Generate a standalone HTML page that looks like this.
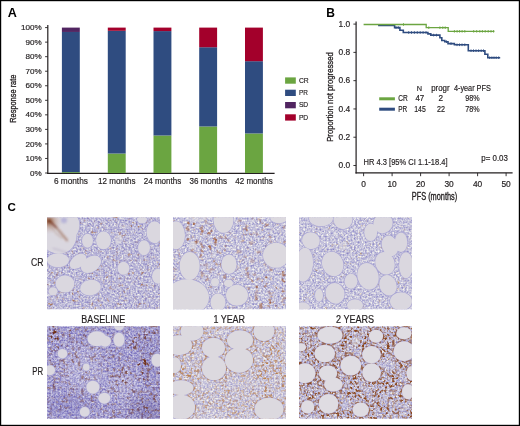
<!DOCTYPE html>
<html><head><meta charset="utf-8"><style>
html,body{margin:0;padding:0;background:#fff;}
svg{display:block;will-change:transform;}
text{font-family:"Liberation Sans", sans-serif;}
text.s{stroke:#231f20;stroke-width:0.18px;}
</style></head><body>
<svg width="520" height="426" viewBox="0 0 520 426">
<rect x="0" y="0" width="520" height="426" fill="#fff"/>
<text x="7.8" y="17" font-size="12.6" text-anchor="start" font-weight="bold" fill="#000" >A</text>
<line x1="47.8" y1="24.9" x2="47.8" y2="173.9" stroke="#231f20" stroke-width="1.2"/>
<line x1="47.2" y1="173.3" x2="274.6" y2="173.3" stroke="#231f20" stroke-width="1.2"/>
<line x1="45.1" y1="173.00" x2="47.8" y2="173.00" stroke="#231f20" stroke-width="0.9"/>
<text class="s" x="41.7" y="175.60" font-size="8.1" text-anchor="end" fill="#231f20" >0%</text>
<line x1="45.1" y1="158.46" x2="47.8" y2="158.46" stroke="#231f20" stroke-width="0.9"/>
<text class="s" x="41.7" y="161.06" font-size="8.1" text-anchor="end" fill="#231f20" >10%</text>
<line x1="45.1" y1="143.92" x2="47.8" y2="143.92" stroke="#231f20" stroke-width="0.9"/>
<text class="s" x="41.7" y="146.52" font-size="8.1" text-anchor="end" fill="#231f20" >20%</text>
<line x1="45.1" y1="129.38" x2="47.8" y2="129.38" stroke="#231f20" stroke-width="0.9"/>
<text class="s" x="41.7" y="131.98" font-size="8.1" text-anchor="end" fill="#231f20" >30%</text>
<line x1="45.1" y1="114.84" x2="47.8" y2="114.84" stroke="#231f20" stroke-width="0.9"/>
<text class="s" x="41.7" y="117.44" font-size="8.1" text-anchor="end" fill="#231f20" >40%</text>
<line x1="45.1" y1="100.30" x2="47.8" y2="100.30" stroke="#231f20" stroke-width="0.9"/>
<text class="s" x="41.7" y="102.90" font-size="8.1" text-anchor="end" fill="#231f20" >50%</text>
<line x1="45.1" y1="85.76" x2="47.8" y2="85.76" stroke="#231f20" stroke-width="0.9"/>
<text class="s" x="41.7" y="88.36" font-size="8.1" text-anchor="end" fill="#231f20" >60%</text>
<line x1="45.1" y1="71.22" x2="47.8" y2="71.22" stroke="#231f20" stroke-width="0.9"/>
<text class="s" x="41.7" y="73.82" font-size="8.1" text-anchor="end" fill="#231f20" >70%</text>
<line x1="45.1" y1="56.68" x2="47.8" y2="56.68" stroke="#231f20" stroke-width="0.9"/>
<text class="s" x="41.7" y="59.28" font-size="8.1" text-anchor="end" fill="#231f20" >80%</text>
<line x1="45.1" y1="42.14" x2="47.8" y2="42.14" stroke="#231f20" stroke-width="0.9"/>
<text class="s" x="41.7" y="44.74" font-size="8.1" text-anchor="end" fill="#231f20" >90%</text>
<line x1="45.1" y1="27.60" x2="47.8" y2="27.60" stroke="#231f20" stroke-width="0.9"/>
<text class="s" x="41.7" y="30.20" font-size="8.1" text-anchor="end" fill="#231f20" >100%</text>
<rect x="61.9" y="172.13" width="17.9" height="0.87" fill="#6ba541"/>
<rect x="61.9" y="31.96" width="17.9" height="140.17" fill="#2f4c80"/>
<rect x="61.9" y="27.60" width="17.9" height="4.36" fill="#512561"/>
<text class="s" x="70.90" y="183.7" font-size="8.6" text-anchor="middle" fill="#231f20" textLength="34" lengthAdjust="spacingAndGlyphs" >6 months</text>
<rect x="107.8" y="153.52" width="17.9" height="19.48" fill="#6ba541"/>
<rect x="107.8" y="30.80" width="17.9" height="122.72" fill="#2f4c80"/>
<rect x="107.8" y="27.60" width="17.9" height="3.20" fill="#a3002b"/>
<text class="s" x="116.80" y="183.7" font-size="8.6" text-anchor="middle" fill="#231f20" textLength="37.5" lengthAdjust="spacingAndGlyphs" >12 months</text>
<rect x="153.5" y="135.49" width="17.9" height="37.51" fill="#6ba541"/>
<rect x="153.5" y="31.09" width="17.9" height="104.40" fill="#2f4c80"/>
<rect x="153.5" y="27.60" width="17.9" height="3.49" fill="#a3002b"/>
<text class="s" x="162.50" y="183.7" font-size="8.6" text-anchor="middle" fill="#231f20" textLength="37.5" lengthAdjust="spacingAndGlyphs" >24 months</text>
<rect x="199.2" y="126.47" width="17.9" height="46.53" fill="#6ba541"/>
<rect x="199.2" y="47.23" width="17.9" height="79.24" fill="#2f4c80"/>
<rect x="199.2" y="27.60" width="17.9" height="19.63" fill="#a3002b"/>
<text class="s" x="208.20" y="183.7" font-size="8.6" text-anchor="middle" fill="#231f20" textLength="37.5" lengthAdjust="spacingAndGlyphs" >36 months</text>
<rect x="245.0" y="133.45" width="17.9" height="39.55" fill="#6ba541"/>
<rect x="245.0" y="61.19" width="17.9" height="72.26" fill="#2f4c80"/>
<rect x="245.0" y="27.60" width="17.9" height="33.59" fill="#a3002b"/>
<text class="s" x="254.00" y="183.7" font-size="8.6" text-anchor="middle" fill="#231f20" textLength="37.5" lengthAdjust="spacingAndGlyphs" >42 months</text>
<text transform="translate(15.6,98.7) rotate(-90)" x="0" y="0" font-size="9.4" text-anchor="middle" fill="#231f20" stroke="#231f20" stroke-width="0.32" textLength="48.2" lengthAdjust="spacingAndGlyphs">Response rate</text>
<rect x="285.1" y="77.40" width="10.7" height="6.3" fill="#6ba541"/>
<text class="s" x="298.9" y="82.70" font-size="7.8" text-anchor="start" fill="#231f20" textLength="9.8" lengthAdjust="spacingAndGlyphs" >CR</text>
<rect x="285.1" y="89.70" width="10.7" height="6.3" fill="#2f4c80"/>
<text class="s" x="298.9" y="95.00" font-size="7.8" text-anchor="start" fill="#231f20" textLength="8.9" lengthAdjust="spacingAndGlyphs" >PR</text>
<rect x="285.1" y="102.00" width="10.7" height="6.3" fill="#512561"/>
<text class="s" x="298.9" y="107.30" font-size="7.8" text-anchor="start" fill="#231f20" textLength="9.3" lengthAdjust="spacingAndGlyphs" >SD</text>
<rect x="285.1" y="114.30" width="10.7" height="6.3" fill="#a3002b"/>
<text class="s" x="298.9" y="119.60" font-size="7.8" text-anchor="start" fill="#231f20" textLength="9.3" lengthAdjust="spacingAndGlyphs" >PD</text>
<text x="326.3" y="17" font-size="12.0" text-anchor="start" font-weight="bold" fill="#000" >B</text>
<line x1="356.1" y1="21.4" x2="356.1" y2="173.5" stroke="#231f20" stroke-width="1.2"/>
<line x1="355.5" y1="172.9" x2="512.6" y2="172.9" stroke="#231f20" stroke-width="1.2"/>
<line x1="353.4" y1="165.50" x2="356.1" y2="165.50" stroke="#231f20" stroke-width="0.9"/>
<text class="s" x="350.2" y="168.10" font-size="8.4" text-anchor="end" fill="#231f20" >0.0</text>
<line x1="353.4" y1="137.22" x2="356.1" y2="137.22" stroke="#231f20" stroke-width="0.9"/>
<text class="s" x="350.2" y="139.82" font-size="8.4" text-anchor="end" fill="#231f20" >0.2</text>
<line x1="353.4" y1="108.94" x2="356.1" y2="108.94" stroke="#231f20" stroke-width="0.9"/>
<text class="s" x="350.2" y="111.54" font-size="8.4" text-anchor="end" fill="#231f20" >0.4</text>
<line x1="353.4" y1="80.66" x2="356.1" y2="80.66" stroke="#231f20" stroke-width="0.9"/>
<text class="s" x="350.2" y="83.26" font-size="8.4" text-anchor="end" fill="#231f20" >0.6</text>
<line x1="353.4" y1="52.38" x2="356.1" y2="52.38" stroke="#231f20" stroke-width="0.9"/>
<text class="s" x="350.2" y="54.98" font-size="8.4" text-anchor="end" fill="#231f20" >0.8</text>
<line x1="353.4" y1="24.10" x2="356.1" y2="24.10" stroke="#231f20" stroke-width="0.9"/>
<text class="s" x="350.2" y="26.70" font-size="8.4" text-anchor="end" fill="#231f20" >1.0</text>
<line x1="363.60" y1="172.9" x2="363.60" y2="176.2" stroke="#231f20" stroke-width="0.9"/>
<text class="s" x="363.60" y="186.5" font-size="8.4" text-anchor="middle" fill="#231f20" >0</text>
<line x1="392.10" y1="172.9" x2="392.10" y2="176.2" stroke="#231f20" stroke-width="0.9"/>
<text class="s" x="392.10" y="186.5" font-size="8.4" text-anchor="middle" fill="#231f20" >10</text>
<line x1="420.60" y1="172.9" x2="420.60" y2="176.2" stroke="#231f20" stroke-width="0.9"/>
<text class="s" x="420.60" y="186.5" font-size="8.4" text-anchor="middle" fill="#231f20" >20</text>
<line x1="449.10" y1="172.9" x2="449.10" y2="176.2" stroke="#231f20" stroke-width="0.9"/>
<text class="s" x="449.10" y="186.5" font-size="8.4" text-anchor="middle" fill="#231f20" >30</text>
<line x1="477.60" y1="172.9" x2="477.60" y2="176.2" stroke="#231f20" stroke-width="0.9"/>
<text class="s" x="477.60" y="186.5" font-size="8.4" text-anchor="middle" fill="#231f20" >40</text>
<line x1="506.10" y1="172.9" x2="506.10" y2="176.2" stroke="#231f20" stroke-width="0.9"/>
<text class="s" x="506.10" y="186.5" font-size="8.4" text-anchor="middle" fill="#231f20" >50</text>
<text x="411.8" y="199.9" font-size="10.2" text-anchor="start" fill="#231f20" textLength="45.4" lengthAdjust="spacingAndGlyphs" stroke="#231f20" stroke-width="0.35">PFS (months)</text>
<text transform="translate(333,97) rotate(-90)" x="0" y="0" font-size="9.8" text-anchor="middle" fill="#231f20" stroke="#231f20" stroke-width="0.32" textLength="89.7" lengthAdjust="spacingAndGlyphs">Proportion not progressed</text>
<line x1="379.2" y1="98.8" x2="394.9" y2="98.8" stroke="#6ba541" stroke-width="3"/>
<line x1="379.2" y1="109.2" x2="394.9" y2="109.2" stroke="#2f4c80" stroke-width="3"/>
<text class="s" x="419.5" y="91.1" font-size="8.0" text-anchor="middle" fill="#231f20" textLength="5.3" lengthAdjust="spacingAndGlyphs" >N</text>
<text class="s" x="431.2" y="91.1" font-size="8.2" text-anchor="start" fill="#231f20" textLength="18.4" lengthAdjust="spacingAndGlyphs" >progr</text>
<text class="s" x="453.9" y="91.1" font-size="8.2" text-anchor="start" fill="#231f20" textLength="36.9" lengthAdjust="spacingAndGlyphs" >4-year PFS</text>
<text class="s" x="398.2" y="101.4" font-size="8.2" text-anchor="start" fill="#231f20" textLength="9.5" lengthAdjust="spacingAndGlyphs" >CR</text>
<text class="s" x="398.2" y="111.6" font-size="8.2" text-anchor="start" fill="#231f20" textLength="9.0" lengthAdjust="spacingAndGlyphs" >PR</text>
<text class="s" x="419.8" y="101.4" font-size="8.2" text-anchor="middle" fill="#231f20" textLength="8.8" lengthAdjust="spacingAndGlyphs" >47</text>
<text class="s" x="420.0" y="111.6" font-size="8.2" text-anchor="middle" fill="#231f20" textLength="11.5" lengthAdjust="spacingAndGlyphs" >145</text>
<text class="s" x="440.7" y="101.4" font-size="8.2" text-anchor="middle" fill="#231f20" >2</text>
<text class="s" x="440.9" y="111.6" font-size="8.2" text-anchor="middle" fill="#231f20" textLength="8.0" lengthAdjust="spacingAndGlyphs" >22</text>
<text class="s" x="472.4" y="101.4" font-size="8.2" text-anchor="middle" fill="#231f20" textLength="14.3" lengthAdjust="spacingAndGlyphs" >98%</text>
<text class="s" x="472.4" y="111.6" font-size="8.2" text-anchor="middle" fill="#231f20" textLength="14.3" lengthAdjust="spacingAndGlyphs" >78%</text>
<text class="s" x="363.6" y="165.4" font-size="8.4" text-anchor="start" fill="#231f20" textLength="84.0" lengthAdjust="spacingAndGlyphs" >HR 4.3 [95% CI 1.1-18.4]</text>
<text class="s" x="481.3" y="161.4" font-size="8.4" text-anchor="start" fill="#231f20" textLength="26.6" lengthAdjust="spacingAndGlyphs" >p= 0.03</text>
<polyline points="378.1,25.5 394.6,25.5 394.6,27.6 399.9,27.6 399.9,30.3 403.3,30.3 403.3,32.5 427.9,32.5 427.9,33.9 430.8,33.9 430.8,35.1 439.9,35.1 439.9,37.7 441.8,37.7 441.8,40.5 444.8,40.5 444.8,41.7 448.0,41.7 448.0,43.6 454.4,43.6 454.4,44.8 468.3,44.8 468.3,50.7 484.9,50.7 484.9,54.3 487.8,54.3 487.8,57.7 500.2,57.7" fill="none" stroke="#2f4c80" stroke-width="1.6"/>
<line x1="396" y1="26.30" x2="396" y2="28.90" stroke="#2f4c80" stroke-width="0.9"/>
<line x1="398.3" y1="26.30" x2="398.3" y2="28.90" stroke="#2f4c80" stroke-width="0.9"/>
<line x1="408.7" y1="31.20" x2="408.7" y2="33.80" stroke="#2f4c80" stroke-width="0.9"/>
<line x1="411.5" y1="31.20" x2="411.5" y2="33.80" stroke="#2f4c80" stroke-width="0.9"/>
<line x1="414.4" y1="31.20" x2="414.4" y2="33.80" stroke="#2f4c80" stroke-width="0.9"/>
<line x1="417.3" y1="31.20" x2="417.3" y2="33.80" stroke="#2f4c80" stroke-width="0.9"/>
<line x1="420.2" y1="31.20" x2="420.2" y2="33.80" stroke="#2f4c80" stroke-width="0.9"/>
<line x1="423.1" y1="31.20" x2="423.1" y2="33.80" stroke="#2f4c80" stroke-width="0.9"/>
<line x1="426" y1="31.20" x2="426" y2="33.80" stroke="#2f4c80" stroke-width="0.9"/>
<line x1="433.6" y1="33.80" x2="433.6" y2="36.40" stroke="#2f4c80" stroke-width="0.9"/>
<line x1="436.5" y1="33.80" x2="436.5" y2="36.40" stroke="#2f4c80" stroke-width="0.9"/>
<line x1="446.5" y1="40.40" x2="446.5" y2="43.00" stroke="#2f4c80" stroke-width="0.9"/>
<line x1="451" y1="42.30" x2="451" y2="44.90" stroke="#2f4c80" stroke-width="0.9"/>
<line x1="457" y1="43.50" x2="457" y2="46.10" stroke="#2f4c80" stroke-width="0.9"/>
<line x1="459.5" y1="43.50" x2="459.5" y2="46.10" stroke="#2f4c80" stroke-width="0.9"/>
<line x1="462" y1="43.50" x2="462" y2="46.10" stroke="#2f4c80" stroke-width="0.9"/>
<line x1="464.8" y1="43.50" x2="464.8" y2="46.10" stroke="#2f4c80" stroke-width="0.9"/>
<line x1="471" y1="49.40" x2="471" y2="52.00" stroke="#2f4c80" stroke-width="0.9"/>
<line x1="473.5" y1="49.40" x2="473.5" y2="52.00" stroke="#2f4c80" stroke-width="0.9"/>
<line x1="476" y1="49.40" x2="476" y2="52.00" stroke="#2f4c80" stroke-width="0.9"/>
<line x1="478.6" y1="49.40" x2="478.6" y2="52.00" stroke="#2f4c80" stroke-width="0.9"/>
<line x1="481.2" y1="49.40" x2="481.2" y2="52.00" stroke="#2f4c80" stroke-width="0.9"/>
<line x1="483.5" y1="49.40" x2="483.5" y2="52.00" stroke="#2f4c80" stroke-width="0.9"/>
<line x1="489.7" y1="56.40" x2="489.7" y2="59.00" stroke="#2f4c80" stroke-width="0.9"/>
<line x1="491.9" y1="56.40" x2="491.9" y2="59.00" stroke="#2f4c80" stroke-width="0.9"/>
<line x1="494" y1="56.40" x2="494" y2="59.00" stroke="#2f4c80" stroke-width="0.9"/>
<line x1="496.2" y1="56.40" x2="496.2" y2="59.00" stroke="#2f4c80" stroke-width="0.9"/>
<line x1="498.7" y1="56.40" x2="498.7" y2="59.00" stroke="#2f4c80" stroke-width="0.9"/>
<polyline points="363.6,24.5 426.2,24.5 426.2,27.7 448.2,27.7 448.2,31.3 494.4,31.3" fill="none" stroke="#6ba541" stroke-width="1.3"/>
<line x1="403.5" y1="23.20" x2="403.5" y2="25.80" stroke="#6ba541" stroke-width="0.9"/>
<line x1="428.8" y1="26.40" x2="428.8" y2="29.00" stroke="#6ba541" stroke-width="0.9"/>
<line x1="439.9" y1="26.40" x2="439.9" y2="29.00" stroke="#6ba541" stroke-width="0.9"/>
<line x1="442.8" y1="26.40" x2="442.8" y2="29.00" stroke="#6ba541" stroke-width="0.9"/>
<line x1="445.2" y1="26.40" x2="445.2" y2="29.00" stroke="#6ba541" stroke-width="0.9"/>
<line x1="454.4" y1="30.00" x2="454.4" y2="32.60" stroke="#6ba541" stroke-width="0.9"/>
<line x1="457.1" y1="30.00" x2="457.1" y2="32.60" stroke="#6ba541" stroke-width="0.9"/>
<line x1="459.6" y1="30.00" x2="459.6" y2="32.60" stroke="#6ba541" stroke-width="0.9"/>
<line x1="462.1" y1="30.00" x2="462.1" y2="32.60" stroke="#6ba541" stroke-width="0.9"/>
<line x1="464.8" y1="30.00" x2="464.8" y2="32.60" stroke="#6ba541" stroke-width="0.9"/>
<line x1="473.7" y1="30.00" x2="473.7" y2="32.60" stroke="#6ba541" stroke-width="0.9"/>
<line x1="476.7" y1="30.00" x2="476.7" y2="32.60" stroke="#6ba541" stroke-width="0.9"/>
<line x1="479.8" y1="30.00" x2="479.8" y2="32.60" stroke="#6ba541" stroke-width="0.9"/>
<line x1="482.4" y1="30.00" x2="482.4" y2="32.60" stroke="#6ba541" stroke-width="0.9"/>
<line x1="485.2" y1="30.00" x2="485.2" y2="32.60" stroke="#6ba541" stroke-width="0.9"/>
<line x1="488.2" y1="30.00" x2="488.2" y2="32.60" stroke="#6ba541" stroke-width="0.9"/>
<line x1="491.0" y1="30.00" x2="491.0" y2="32.60" stroke="#6ba541" stroke-width="0.9"/>
<line x1="493.6" y1="30.00" x2="493.6" y2="32.60" stroke="#6ba541" stroke-width="0.9"/>
<text x="7.4" y="211" font-size="11.6" text-anchor="start" font-weight="bold" fill="#000" >C</text>
<text class="s" x="30.9" y="266.1" font-size="10.0" text-anchor="start" fill="#231f20" textLength="12.5" lengthAdjust="spacingAndGlyphs" >CR</text>
<text class="s" x="32.3" y="374.8" font-size="10.0" text-anchor="start" fill="#231f20" textLength="10.9" lengthAdjust="spacingAndGlyphs" >PR</text>
<text class="s" x="81.3" y="322.8" font-size="10.2" text-anchor="start" fill="#231f20" textLength="44.0" lengthAdjust="spacingAndGlyphs" >BASELINE</text>
<text class="s" x="213.4" y="322.8" font-size="10.0" text-anchor="start" fill="#231f20" textLength="31.6" lengthAdjust="spacingAndGlyphs" >1 YEAR</text>
<text class="s" x="336.0" y="322.8" font-size="10.0" text-anchor="start" fill="#231f20" textLength="38.1" lengthAdjust="spacingAndGlyphs" >2 YEARS</text>
<clipPath id="c0"><rect x="47" y="217.3" width="113" height="92"/></clipPath>
<filter id="t0" x="47" y="217.3" width="113" height="92" filterUnits="userSpaceOnUse" color-interpolation-filters="sRGB"><feTurbulence type="fractalNoise" baseFrequency="0.55" numOctaves="2" seed="3" result="n"/><feColorMatrix in="n" type="matrix" values="0.6275 0 0 0 0.4298  0.6588 0 0 0 0.4003  0.2353 0 0 0 0.7318  0 0 0 0 1" result="ts0"/><feGaussianBlur in="ts0" stdDeviation="0.25"/></filter>
<filter id="b0" x="47" y="217.3" width="113" height="92" filterUnits="userSpaceOnUse" color-interpolation-filters="sRGB"><feTurbulence type="fractalNoise" baseFrequency="0.32" numOctaves="2" seed="103" result="n2"/><feColorMatrix in="n2" type="matrix" values="0 0 0 0 0.6588  0 0 0 0 0.4157  0 0 0 0 0.2510  4 0 0 0 -2.4000" result="br"/><feTurbulence type="fractalNoise" baseFrequency="0.1" numOctaves="1" seed="203" result="n3"/><feColorMatrix in="n3" type="matrix" values="0 0 0 0 0  0 0 0 0 0  0 0 0 0 0  3 0 0 0 -1.050" result="cm"/><feComposite in="br" in2="cm" operator="in" result="br2"/><feGaussianBlur in="br2" stdDeviation="0.45"/></filter>
<g clip-path="url(#c0)">
<rect x="47" y="217.3" width="113" height="92" filter="url(#t0)"/>
<rect x="47" y="217.3" width="113" height="92" filter="url(#b0)"/>
<ellipse cx="118.5" cy="239.3" rx="4" ry="5" transform="rotate(0 118.5 239.3)" fill="#dad7df" opacity="0.55"/>
<ellipse cx="57" cy="232.3" rx="19" ry="22" transform="rotate(-25 57 232.3)" fill="none" stroke="#aaa6d4" stroke-width="1.3"/>
<ellipse cx="73" cy="225.3" rx="6.5" ry="11" transform="rotate(0 73 225.3)" fill="none" stroke="#aaa6d4" stroke-width="1.3"/>
<ellipse cx="58" cy="260.3" rx="11" ry="7" transform="rotate(0 58 260.3)" fill="none" stroke="#aaa6d4" stroke-width="1.3"/>
<ellipse cx="87.5" cy="240.8" rx="5.5" ry="7" transform="rotate(0 87.5 240.8)" fill="none" stroke="#aaa6d4" stroke-width="1.3"/>
<ellipse cx="103.5" cy="240.3" rx="7.5" ry="9" transform="rotate(0 103.5 240.3)" fill="none" stroke="#aaa6d4" stroke-width="1.3"/>
<ellipse cx="78" cy="261.3" rx="9.5" ry="6" transform="rotate(-40 78 261.3)" fill="none" stroke="#aaa6d4" stroke-width="1.3"/>
<ellipse cx="91" cy="264.3" rx="11" ry="7.5" transform="rotate(-35 91 264.3)" fill="none" stroke="#aaa6d4" stroke-width="1.3"/>
<ellipse cx="123.5" cy="268.3" rx="6" ry="6.5" transform="rotate(0 123.5 268.3)" fill="none" stroke="#aaa6d4" stroke-width="1.3"/>
<ellipse cx="144" cy="247.8" rx="6" ry="7.5" transform="rotate(0 144 247.8)" fill="none" stroke="#aaa6d4" stroke-width="1.3"/>
<ellipse cx="154.5" cy="232.3" rx="8" ry="11" transform="rotate(0 154.5 232.3)" fill="none" stroke="#aaa6d4" stroke-width="1.3"/>
<ellipse cx="158" cy="276.3" rx="6" ry="7.5" transform="rotate(0 158 276.3)" fill="none" stroke="#aaa6d4" stroke-width="1.3"/>
<ellipse cx="65" cy="283.8" rx="9.4" ry="8.6" transform="rotate(0 65 283.8)" fill="none" stroke="#aaa6d4" stroke-width="1.3"/>
<ellipse cx="90.5" cy="287.6" rx="10.5" ry="7.7" transform="rotate(-10 90.5 287.6)" fill="none" stroke="#aaa6d4" stroke-width="1.3"/>
<ellipse cx="53" cy="291.3" rx="4.5" ry="4" transform="rotate(0 53 291.3)" fill="none" stroke="#aaa6d4" stroke-width="1.3"/>
<ellipse cx="142" cy="219.3" rx="5" ry="4" transform="rotate(0 142 219.3)" fill="none" stroke="#aaa6d4" stroke-width="1.3"/>
<ellipse cx="57" cy="232.3" rx="19" ry="22" transform="rotate(-25 57 232.3)" fill="#dad7df"/>
<ellipse cx="73" cy="225.3" rx="6.5" ry="11" transform="rotate(0 73 225.3)" fill="#dad7df"/>
<ellipse cx="58" cy="260.3" rx="11" ry="7" transform="rotate(0 58 260.3)" fill="#dad7df"/>
<ellipse cx="87.5" cy="240.8" rx="5.5" ry="7" transform="rotate(0 87.5 240.8)" fill="#dad7df"/>
<ellipse cx="103.5" cy="240.3" rx="7.5" ry="9" transform="rotate(0 103.5 240.3)" fill="#dad7df"/>
<ellipse cx="78" cy="261.3" rx="9.5" ry="6" transform="rotate(-40 78 261.3)" fill="#dad7df"/>
<ellipse cx="91" cy="264.3" rx="11" ry="7.5" transform="rotate(-35 91 264.3)" fill="#dad7df"/>
<ellipse cx="123.5" cy="268.3" rx="6" ry="6.5" transform="rotate(0 123.5 268.3)" fill="#dad7df"/>
<ellipse cx="144" cy="247.8" rx="6" ry="7.5" transform="rotate(0 144 247.8)" fill="#dad7df"/>
<ellipse cx="154.5" cy="232.3" rx="8" ry="11" transform="rotate(0 154.5 232.3)" fill="#dad7df"/>
<ellipse cx="158" cy="276.3" rx="6" ry="7.5" transform="rotate(0 158 276.3)" fill="#dad7df"/>
<ellipse cx="65" cy="283.8" rx="9.4" ry="8.6" transform="rotate(0 65 283.8)" fill="#dad7df"/>
<ellipse cx="90.5" cy="287.6" rx="10.5" ry="7.7" transform="rotate(-10 90.5 287.6)" fill="#dad7df"/>
<ellipse cx="53" cy="291.3" rx="4.5" ry="4" transform="rotate(0 53 291.3)" fill="#dad7df"/>
<ellipse cx="142" cy="219.3" rx="5" ry="4" transform="rotate(0 142 219.3)" fill="#dad7df"/>
<defs><radialGradient id="bg0" cx="49" cy="221.3" r="13" gradientUnits="userSpaceOnUse"><stop offset="0" stop-color="#7a3a1a" stop-opacity="0.85"/><stop offset="0.45" stop-color="#a06848" stop-opacity="0.35"/><stop offset="1" stop-color="#c8b0a8" stop-opacity="0"/></radialGradient><filter id="bl0" x="42" y="212.3" width="50" height="50" filterUnits="userSpaceOnUse"><feGaussianBlur stdDeviation="0.9"/></filter></defs>
<rect x="47" y="217.3" width="18" height="20" fill="url(#bg0)"/>
<g filter="url(#bl0)" fill="none" stroke-linecap="round"><path d="M49 220.3 L57 228.3 L67 240.3" stroke="#8a4a2a" stroke-width="2.2" opacity="0.5"/><path d="M49 220.3 L56 227.3" stroke="#6a2a10" stroke-width="1.6" opacity="0.6"/><path d="M51 226.3 L56 233.3 L62 238.3" stroke="#9a6a50" stroke-width="1.2" opacity="0.35"/><path d="M53 248.3 Q61 250.3 68 253.3" stroke="#8a7aa8" stroke-width="0.8" opacity="0.5"/></g>
<ellipse cx="64" cy="220.3" rx="3" ry="3" fill="#a8a4d4" opacity="0.7" filter="url(#bl0)"/>
</g>
<clipPath id="c1"><rect x="173" y="217.3" width="113" height="92"/></clipPath>
<filter id="t1" x="173" y="217.3" width="113" height="92" filterUnits="userSpaceOnUse" color-interpolation-filters="sRGB"><feTurbulence type="fractalNoise" baseFrequency="0.55" numOctaves="2" seed="5" result="n"/><feColorMatrix in="n" type="matrix" values="0.6431 0 0 0 0.4540  0.6588 0 0 0 0.4358  0.2353 0 0 0 0.7467  0 0 0 0 1" result="ts0"/><feGaussianBlur in="ts0" stdDeviation="0.25"/></filter>
<filter id="b1" x="173" y="217.3" width="113" height="92" filterUnits="userSpaceOnUse" color-interpolation-filters="sRGB"><feTurbulence type="fractalNoise" baseFrequency="0.22" numOctaves="2" seed="105" result="n2"/><feColorMatrix in="n2" type="matrix" values="0 0 0 0 0.6275  0 0 0 0 0.3529  0 0 0 0 0.2039  6 0 0 0 -3.3600" result="br"/><feTurbulence type="fractalNoise" baseFrequency="0.1" numOctaves="1" seed="205" result="n3"/><feColorMatrix in="n3" type="matrix" values="0 0 0 0 0  0 0 0 0 0  0 0 0 0 0  3 0 0 0 -0.900" result="cm"/><feComposite in="br" in2="cm" operator="in" result="br2"/><feGaussianBlur in="br2" stdDeviation="0.45"/></filter>
<filter id="mb1" x="153" y="197.3" width="153" height="132" filterUnits="userSpaceOnUse"><feGaussianBlur stdDeviation="7"/></filter>
<mask id="m1" maskUnits="userSpaceOnUse" x="173" y="217.3" width="113" height="92"><g filter="url(#mb1)"><rect x="153" y="197.3" width="153" height="132" fill="#fff" fill-opacity="0.45"/><ellipse cx="201" cy="235.3" rx="24" ry="16" fill="#fff" fill-opacity="1"/><ellipse cx="271" cy="289.3" rx="16" ry="20" fill="#fff" fill-opacity="1"/><ellipse cx="248" cy="227.3" rx="10" ry="10" fill="#fff" fill-opacity="0.8"/></g></mask>
<g clip-path="url(#c1)">
<rect x="173" y="217.3" width="113" height="92" filter="url(#t1)"/>
<rect x="173" y="217.3" width="113" height="92" filter="url(#b1)" mask="url(#m1)"/>
<ellipse cx="192.7" cy="245.3" rx="4" ry="4" transform="rotate(0 192.7 245.3)" fill="#dcd9df" opacity="0.55"/>
<ellipse cx="197" cy="217.3" rx="10" ry="5" transform="rotate(0 197 217.3)" fill="#dcd9df" opacity="0.55"/>
<ellipse cx="176" cy="235.3" rx="9" ry="14" transform="rotate(0 176 235.3)" fill="none" stroke="#aaa6d4" stroke-width="1.3"/>
<ellipse cx="223.5" cy="220.3" rx="10" ry="12.5" transform="rotate(0 223.5 220.3)" fill="none" stroke="#aaa6d4" stroke-width="1.3"/>
<ellipse cx="279" cy="217.3" rx="9" ry="6" transform="rotate(0 279 217.3)" fill="none" stroke="#aaa6d4" stroke-width="1.3"/>
<ellipse cx="189.7" cy="266.0" rx="10" ry="14" transform="rotate(0 189.7 266.0)" fill="none" stroke="#aaa6d4" stroke-width="1.3"/>
<ellipse cx="187" cy="297.3" rx="22" ry="18" transform="rotate(0 187 297.3)" fill="none" stroke="#aaa6d4" stroke-width="1.3"/>
<ellipse cx="215" cy="282.3" rx="4" ry="4.2" transform="rotate(0 215 282.3)" fill="none" stroke="#aaa6d4" stroke-width="1.3"/>
<ellipse cx="228.5" cy="283.3" rx="4.5" ry="3.9" transform="rotate(0 228.5 283.3)" fill="none" stroke="#aaa6d4" stroke-width="1.3"/>
<ellipse cx="229" cy="264.3" rx="7.6" ry="9.8" transform="rotate(0 229 264.3)" fill="none" stroke="#aaa6d4" stroke-width="1.3"/>
<ellipse cx="237" cy="295.3" rx="11" ry="10.5" transform="rotate(0 237 295.3)" fill="none" stroke="#aaa6d4" stroke-width="1.3"/>
<ellipse cx="218" cy="302.3" rx="7.5" ry="9" transform="rotate(0 218 302.3)" fill="none" stroke="#aaa6d4" stroke-width="1.3"/>
<ellipse cx="276" cy="255.3" rx="13" ry="12.5" transform="rotate(0 276 255.3)" fill="none" stroke="#aaa6d4" stroke-width="1.3"/>
<ellipse cx="176" cy="235.3" rx="9" ry="14" transform="rotate(0 176 235.3)" fill="#dcd9df"/>
<ellipse cx="223.5" cy="220.3" rx="10" ry="12.5" transform="rotate(0 223.5 220.3)" fill="#dcd9df"/>
<ellipse cx="279" cy="217.3" rx="9" ry="6" transform="rotate(0 279 217.3)" fill="#dcd9df"/>
<ellipse cx="189.7" cy="266.0" rx="10" ry="14" transform="rotate(0 189.7 266.0)" fill="#dcd9df"/>
<ellipse cx="187" cy="297.3" rx="22" ry="18" transform="rotate(0 187 297.3)" fill="#dcd9df"/>
<ellipse cx="215" cy="282.3" rx="4" ry="4.2" transform="rotate(0 215 282.3)" fill="#dcd9df"/>
<ellipse cx="228.5" cy="283.3" rx="4.5" ry="3.9" transform="rotate(0 228.5 283.3)" fill="#dcd9df"/>
<ellipse cx="229" cy="264.3" rx="7.6" ry="9.8" transform="rotate(0 229 264.3)" fill="#dcd9df"/>
<ellipse cx="237" cy="295.3" rx="11" ry="10.5" transform="rotate(0 237 295.3)" fill="#dcd9df"/>
<ellipse cx="218" cy="302.3" rx="7.5" ry="9" transform="rotate(0 218 302.3)" fill="#dcd9df"/>
<ellipse cx="276" cy="255.3" rx="13" ry="12.5" transform="rotate(0 276 255.3)" fill="#dcd9df"/>
</g>
<clipPath id="c2"><rect x="299" y="217.3" width="113" height="92"/></clipPath>
<filter id="t2" x="299" y="217.3" width="113" height="92" filterUnits="userSpaceOnUse" color-interpolation-filters="sRGB"><feTurbulence type="fractalNoise" baseFrequency="0.55" numOctaves="2" seed="8" result="n"/><feColorMatrix in="n" type="matrix" values="0.6431 0 0 0 0.4540  0.6588 0 0 0 0.4358  0.2353 0 0 0 0.7467  0 0 0 0 1" result="ts0"/><feGaussianBlur in="ts0" stdDeviation="0.25"/></filter>
<filter id="b2" x="299" y="217.3" width="113" height="92" filterUnits="userSpaceOnUse" color-interpolation-filters="sRGB"><feTurbulence type="fractalNoise" baseFrequency="0.32" numOctaves="2" seed="108" result="n2"/><feColorMatrix in="n2" type="matrix" values="0 0 0 0 0.6902  0 0 0 0 0.5020  0 0 0 0 0.2824  4 0 0 0 -2.4800" result="br"/><feTurbulence type="fractalNoise" baseFrequency="0.1" numOctaves="1" seed="208" result="n3"/><feColorMatrix in="n3" type="matrix" values="0 0 0 0 0  0 0 0 0 0  0 0 0 0 0  3 0 0 0 -1.200" result="cm"/><feComposite in="br" in2="cm" operator="in" result="br2"/><feGaussianBlur in="br2" stdDeviation="0.45"/></filter>
<g clip-path="url(#c2)">
<rect x="299" y="217.3" width="113" height="92" filter="url(#t2)"/>
<rect x="299" y="217.3" width="113" height="92" filter="url(#b2)"/>
<ellipse cx="343" cy="246.3" rx="4" ry="4" transform="rotate(0 343 246.3)" fill="#dad7df" opacity="0.55"/>
<ellipse cx="321" cy="218.3" rx="12" ry="8" transform="rotate(0 321 218.3)" fill="none" stroke="#aaa6d4" stroke-width="1.3"/>
<ellipse cx="343" cy="219.3" rx="9.5" ry="10" transform="rotate(0 343 219.3)" fill="none" stroke="#aaa6d4" stroke-width="1.3"/>
<ellipse cx="311" cy="240.60000000000002" rx="9" ry="8.3" transform="rotate(20 311 240.60000000000002)" fill="none" stroke="#aaa6d4" stroke-width="1.3"/>
<ellipse cx="304" cy="264.8" rx="9" ry="17" transform="rotate(5 304 264.8)" fill="none" stroke="#aaa6d4" stroke-width="1.3"/>
<ellipse cx="332.7" cy="264.0" rx="10.5" ry="12.5" transform="rotate(-20 332.7 264.0)" fill="none" stroke="#aaa6d4" stroke-width="1.3"/>
<ellipse cx="335" cy="293.3" rx="9.5" ry="10.5" transform="rotate(-20 335 293.3)" fill="none" stroke="#aaa6d4" stroke-width="1.3"/>
<ellipse cx="319" cy="295.3" rx="4" ry="6.5" transform="rotate(0 319 295.3)" fill="none" stroke="#aaa6d4" stroke-width="1.3"/>
<ellipse cx="302" cy="307.3" rx="8" ry="5" transform="rotate(0 302 307.3)" fill="none" stroke="#aaa6d4" stroke-width="1.3"/>
<ellipse cx="351" cy="281.3" rx="6.5" ry="7.5" transform="rotate(0 351 281.3)" fill="none" stroke="#aaa6d4" stroke-width="1.3"/>
<ellipse cx="368" cy="276.3" rx="10.5" ry="13.5" transform="rotate(-15 368 276.3)" fill="none" stroke="#aaa6d4" stroke-width="1.3"/>
<ellipse cx="355" cy="305.3" rx="8" ry="6" transform="rotate(0 355 305.3)" fill="none" stroke="#aaa6d4" stroke-width="1.3"/>
<ellipse cx="370.7" cy="232.3" rx="6.5" ry="8.7" transform="rotate(0 370.7 232.3)" fill="none" stroke="#aaa6d4" stroke-width="1.3"/>
<ellipse cx="383" cy="223.3" rx="9.5" ry="10" transform="rotate(30 383 223.3)" fill="none" stroke="#aaa6d4" stroke-width="1.3"/>
<ellipse cx="390" cy="245.8" rx="8" ry="10.5" transform="rotate(-20 390 245.8)" fill="none" stroke="#aaa6d4" stroke-width="1.3"/>
<ellipse cx="401" cy="242.3" rx="6.3" ry="9.8" transform="rotate(0 401 242.3)" fill="none" stroke="#aaa6d4" stroke-width="1.3"/>
<ellipse cx="385" cy="263.3" rx="9.5" ry="11.5" transform="rotate(-20 385 263.3)" fill="none" stroke="#aaa6d4" stroke-width="1.3"/>
<ellipse cx="388" cy="285.3" rx="8.5" ry="10.5" transform="rotate(-20 388 285.3)" fill="none" stroke="#aaa6d4" stroke-width="1.3"/>
<ellipse cx="406" cy="265.3" rx="7" ry="13" transform="rotate(0 406 265.3)" fill="none" stroke="#aaa6d4" stroke-width="1.3"/>
<ellipse cx="401" cy="301.3" rx="11" ry="9" transform="rotate(0 401 301.3)" fill="none" stroke="#aaa6d4" stroke-width="1.3"/>
<ellipse cx="321" cy="218.3" rx="12" ry="8" transform="rotate(0 321 218.3)" fill="#dad7df"/>
<ellipse cx="343" cy="219.3" rx="9.5" ry="10" transform="rotate(0 343 219.3)" fill="#dad7df"/>
<ellipse cx="311" cy="240.60000000000002" rx="9" ry="8.3" transform="rotate(20 311 240.60000000000002)" fill="#dad7df"/>
<ellipse cx="304" cy="264.8" rx="9" ry="17" transform="rotate(5 304 264.8)" fill="#dad7df"/>
<ellipse cx="332.7" cy="264.0" rx="10.5" ry="12.5" transform="rotate(-20 332.7 264.0)" fill="#dad7df"/>
<ellipse cx="335" cy="293.3" rx="9.5" ry="10.5" transform="rotate(-20 335 293.3)" fill="#dad7df"/>
<ellipse cx="319" cy="295.3" rx="4" ry="6.5" transform="rotate(0 319 295.3)" fill="#dad7df"/>
<ellipse cx="302" cy="307.3" rx="8" ry="5" transform="rotate(0 302 307.3)" fill="#dad7df"/>
<ellipse cx="351" cy="281.3" rx="6.5" ry="7.5" transform="rotate(0 351 281.3)" fill="#dad7df"/>
<ellipse cx="368" cy="276.3" rx="10.5" ry="13.5" transform="rotate(-15 368 276.3)" fill="#dad7df"/>
<ellipse cx="355" cy="305.3" rx="8" ry="6" transform="rotate(0 355 305.3)" fill="#dad7df"/>
<ellipse cx="370.7" cy="232.3" rx="6.5" ry="8.7" transform="rotate(0 370.7 232.3)" fill="#dad7df"/>
<ellipse cx="383" cy="223.3" rx="9.5" ry="10" transform="rotate(30 383 223.3)" fill="#dad7df"/>
<ellipse cx="390" cy="245.8" rx="8" ry="10.5" transform="rotate(-20 390 245.8)" fill="#dad7df"/>
<ellipse cx="401" cy="242.3" rx="6.3" ry="9.8" transform="rotate(0 401 242.3)" fill="#dad7df"/>
<ellipse cx="385" cy="263.3" rx="9.5" ry="11.5" transform="rotate(-20 385 263.3)" fill="#dad7df"/>
<ellipse cx="388" cy="285.3" rx="8.5" ry="10.5" transform="rotate(-20 388 285.3)" fill="#dad7df"/>
<ellipse cx="406" cy="265.3" rx="7" ry="13" transform="rotate(0 406 265.3)" fill="#dad7df"/>
<ellipse cx="401" cy="301.3" rx="11" ry="9" transform="rotate(0 401 301.3)" fill="#dad7df"/>
</g>
<clipPath id="c3"><rect x="47" y="326.2" width="113" height="92.6"/></clipPath>
<filter id="t3" x="47" y="326.2" width="113" height="92.6" filterUnits="userSpaceOnUse" color-interpolation-filters="sRGB"><feTurbulence type="fractalNoise" baseFrequency="0.55" numOctaves="2" seed="11" result="n"/><feColorMatrix in="n" type="matrix" values="0.6588 0 0 0 0.3274  0.7059 0 0 0 0.2835  0.2824 0 0 0 0.6860  0 0 0 0 1" result="ts0"/><feGaussianBlur in="ts0" stdDeviation="0.25"/></filter>
<filter id="b3" x="47" y="326.2" width="113" height="92.6" filterUnits="userSpaceOnUse" color-interpolation-filters="sRGB"><feTurbulence type="fractalNoise" baseFrequency="0.32" numOctaves="2" seed="111" result="n2"/><feColorMatrix in="n2" type="matrix" values="0 0 0 0 0.4314  0 0 0 0 0.1804  0 0 0 0 0.0863  4.5 0 0 0 -2.2500" result="br"/><feTurbulence type="fractalNoise" baseFrequency="0.1" numOctaves="1" seed="211" result="n3"/><feColorMatrix in="n3" type="matrix" values="0 0 0 0 0  0 0 0 0 0  0 0 0 0 0  3 0 0 0 -0.900" result="cm"/><feComposite in="br" in2="cm" operator="in" result="br2"/><feGaussianBlur in="br2" stdDeviation="0.45"/></filter>
<filter id="mb3" x="27" y="306.2" width="153" height="132.6" filterUnits="userSpaceOnUse"><feGaussianBlur stdDeviation="6"/></filter>
<mask id="m3" maskUnits="userSpaceOnUse" x="47" y="326.2" width="113" height="92.6"><g filter="url(#mb3)"><rect x="27" y="306.2" width="153" height="132.6" fill="#fff" fill-opacity="0.5"/><ellipse cx="59" cy="336.2" rx="18" ry="14" fill="#fff" fill-opacity="1"/><ellipse cx="147" cy="354.2" rx="14" ry="28" fill="#fff" fill-opacity="1"/><ellipse cx="145" cy="410.2" rx="16" ry="12" fill="#fff" fill-opacity="1"/><ellipse cx="119" cy="381.2" rx="14" ry="12" fill="#fff" fill-opacity="0.8"/></g></mask>
<g clip-path="url(#c3)">
<rect x="47" y="326.2" width="113" height="92.6" filter="url(#t3)"/>
<ellipse cx="82" cy="368.2" rx="22" ry="22" fill="#eeedf5" opacity="0.2" filter="url(#mb3)"/>
<ellipse cx="123" cy="384.2" rx="16" ry="16" fill="#eeedf5" opacity="0.18" filter="url(#mb3)"/>
<ellipse cx="67" cy="408.2" rx="25" ry="12" fill="#6e6ab8" opacity="0.2" filter="url(#mb3)"/>
<ellipse cx="147" cy="410.2" rx="16" ry="12" fill="#5a5090" opacity="0.3" filter="url(#mb3)"/>
<ellipse cx="151" cy="356.2" rx="10" ry="26" fill="#6e6ab8" opacity="0.15" filter="url(#mb3)"/>
<ellipse cx="102" cy="334.2" rx="25" ry="8" fill="#6e6ab8" opacity="0.12" filter="url(#mb3)"/>
<rect x="47" y="326.2" width="113" height="92.6" filter="url(#b3)" mask="url(#m3)"/>
<ellipse cx="97" cy="338.7" rx="9.5" ry="7.5" transform="rotate(0 97 338.7)" fill="none" stroke="#aaa6d4" stroke-width="1.3"/>
<ellipse cx="105" cy="341.2" rx="6" ry="5.5" transform="rotate(0 105 341.2)" fill="none" stroke="#aaa6d4" stroke-width="1.3"/>
<ellipse cx="119" cy="339.8" rx="5.5" ry="7" transform="rotate(0 119 339.8)" fill="none" stroke="#aaa6d4" stroke-width="1.3"/>
<ellipse cx="119" cy="326.2" rx="5" ry="4" transform="rotate(0 119 326.2)" fill="none" stroke="#aaa6d4" stroke-width="1.3"/>
<ellipse cx="62.5" cy="353.7" rx="4.8" ry="4.8" transform="rotate(0 62.5 353.7)" fill="none" stroke="#aaa6d4" stroke-width="1.3"/>
<ellipse cx="86.3" cy="367.2" rx="3.3" ry="3.6" transform="rotate(0 86.3 367.2)" fill="none" stroke="#aaa6d4" stroke-width="1.3"/>
<ellipse cx="50" cy="370.2" rx="5" ry="5" transform="rotate(0 50 370.2)" fill="none" stroke="#aaa6d4" stroke-width="1.3"/>
<ellipse cx="157" cy="360.2" rx="5.5" ry="6.5" transform="rotate(0 157 360.2)" fill="none" stroke="#aaa6d4" stroke-width="1.3"/>
<ellipse cx="92.9" cy="387.2" rx="6.5" ry="6.5" transform="rotate(0 92.9 387.2)" fill="none" stroke="#aaa6d4" stroke-width="1.3"/>
<ellipse cx="104.3" cy="398.2" rx="6" ry="5.5" transform="rotate(0 104.3 398.2)" fill="none" stroke="#aaa6d4" stroke-width="1.3"/>
<ellipse cx="84.7" cy="411.9" rx="4.9" ry="4.9" transform="rotate(0 84.7 411.9)" fill="none" stroke="#aaa6d4" stroke-width="1.3"/>
<ellipse cx="97" cy="338.7" rx="9.5" ry="7.5" transform="rotate(0 97 338.7)" fill="#dbd8e0"/>
<ellipse cx="105" cy="341.2" rx="6" ry="5.5" transform="rotate(0 105 341.2)" fill="#dbd8e0"/>
<ellipse cx="119" cy="339.8" rx="5.5" ry="7" transform="rotate(0 119 339.8)" fill="#dbd8e0"/>
<ellipse cx="119" cy="326.2" rx="5" ry="4" transform="rotate(0 119 326.2)" fill="#dbd8e0"/>
<ellipse cx="62.5" cy="353.7" rx="4.8" ry="4.8" transform="rotate(0 62.5 353.7)" fill="#dbd8e0"/>
<ellipse cx="86.3" cy="367.2" rx="3.3" ry="3.6" transform="rotate(0 86.3 367.2)" fill="#dbd8e0"/>
<ellipse cx="50" cy="370.2" rx="5" ry="5" transform="rotate(0 50 370.2)" fill="#dbd8e0"/>
<ellipse cx="157" cy="360.2" rx="5.5" ry="6.5" transform="rotate(0 157 360.2)" fill="#dbd8e0"/>
<ellipse cx="92.9" cy="387.2" rx="6.5" ry="6.5" transform="rotate(0 92.9 387.2)" fill="#dbd8e0"/>
<ellipse cx="104.3" cy="398.2" rx="6" ry="5.5" transform="rotate(0 104.3 398.2)" fill="#dbd8e0"/>
<ellipse cx="84.7" cy="411.9" rx="4.9" ry="4.9" transform="rotate(0 84.7 411.9)" fill="#dbd8e0"/>
</g>
<clipPath id="c4"><rect x="173" y="326.2" width="113" height="92.6"/></clipPath>
<filter id="t4" x="173" y="326.2" width="113" height="92.6" filterUnits="userSpaceOnUse" color-interpolation-filters="sRGB"><feTurbulence type="fractalNoise" baseFrequency="0.55" numOctaves="2" seed="13" result="n"/><feColorMatrix in="n" type="matrix" values="0.5647 0 0 0 0.5170  0.5725 0 0 0 0.5002  0.1882 0 0 0 0.7736  0 0 0 0 1" result="ts0"/><feGaussianBlur in="ts0" stdDeviation="0.25"/></filter>
<filter id="b4" x="173" y="326.2" width="113" height="92.6" filterUnits="userSpaceOnUse" color-interpolation-filters="sRGB"><feTurbulence type="fractalNoise" baseFrequency="0.4" numOctaves="2" seed="113" result="n2"/><feColorMatrix in="n2" type="matrix" values="0 0 0 0 0.7216  0 0 0 0 0.4784  0 0 0 0 0.2667  4.5 0 0 0 -2.1600" result="br"/><feTurbulence type="fractalNoise" baseFrequency="0.1" numOctaves="1" seed="213" result="n3"/><feColorMatrix in="n3" type="matrix" values="0 0 0 0 0  0 0 0 0 0  0 0 0 0 0  3 0 0 0 -0.750" result="cm"/><feComposite in="br" in2="cm" operator="in" result="br2"/><feGaussianBlur in="br2" stdDeviation="0.45"/></filter>
<filter id="mb4" x="153" y="306.2" width="153" height="132.6" filterUnits="userSpaceOnUse"><feGaussianBlur stdDeviation="7"/></filter>
<mask id="m4" maskUnits="userSpaceOnUse" x="173" y="326.2" width="113" height="92.6"><g filter="url(#mb4)"><rect x="153" y="306.2" width="153" height="132.6" fill="#fff" fill-opacity="0.55"/><ellipse cx="185" cy="375.2" rx="14" ry="12" fill="#fff" fill-opacity="0.95"/><ellipse cx="218" cy="388.2" rx="14" ry="10" fill="#fff" fill-opacity="0.85"/><ellipse cx="272" cy="366.2" rx="14" ry="30" fill="#fff" fill-opacity="1"/><ellipse cx="233" cy="331.2" rx="10" ry="6" fill="#fff" fill-opacity="0.9"/></g></mask>
<g clip-path="url(#c4)">
<rect x="173" y="326.2" width="113" height="92.6" filter="url(#t4)"/>
<rect x="173" y="326.2" width="113" height="92.6" filter="url(#b4)" mask="url(#m4)"/>
<ellipse cx="192" cy="331.2" rx="11.5" ry="9.5" transform="rotate(0 192 331.2)" fill="none" stroke="#aaa6d4" stroke-width="1.3"/>
<ellipse cx="192" cy="331.2" rx="12.1" ry="10.1" transform="rotate(0 192 331.2)" fill="none" stroke="#b87a44" stroke-width="1.4" stroke-dasharray="3 3 2 4" opacity="0.6"/>
<ellipse cx="179" cy="345.2" rx="13" ry="10" transform="rotate(0 179 345.2)" fill="none" stroke="#aaa6d4" stroke-width="1.3"/>
<ellipse cx="179" cy="345.2" rx="13.6" ry="10.6" transform="rotate(0 179 345.2)" fill="none" stroke="#b87a44" stroke-width="1.4" stroke-dasharray="3 3 2 4" opacity="0.6"/>
<ellipse cx="213.5" cy="347.7" rx="11.5" ry="10" transform="rotate(0 213.5 347.7)" fill="none" stroke="#aaa6d4" stroke-width="1.3"/>
<ellipse cx="213.5" cy="347.7" rx="12.1" ry="10.6" transform="rotate(0 213.5 347.7)" fill="none" stroke="#b87a44" stroke-width="1.4" stroke-dasharray="3 3 2 4" opacity="0.6"/>
<ellipse cx="214" cy="368.2" rx="12" ry="12" transform="rotate(0 214 368.2)" fill="none" stroke="#aaa6d4" stroke-width="1.3"/>
<ellipse cx="214" cy="368.2" rx="12.6" ry="12.6" transform="rotate(0 214 368.2)" fill="none" stroke="#b87a44" stroke-width="1.4" stroke-dasharray="3 3 2 4" opacity="0.6"/>
<ellipse cx="240" cy="340.2" rx="13" ry="10" transform="rotate(0 240 340.2)" fill="none" stroke="#aaa6d4" stroke-width="1.3"/>
<ellipse cx="240" cy="340.2" rx="13.6" ry="10.6" transform="rotate(0 240 340.2)" fill="none" stroke="#b87a44" stroke-width="1.4" stroke-dasharray="3 3 2 4" opacity="0.6"/>
<ellipse cx="239" cy="360.2" rx="14" ry="12.5" transform="rotate(0 239 360.2)" fill="none" stroke="#aaa6d4" stroke-width="1.3"/>
<ellipse cx="239" cy="360.2" rx="14.6" ry="13.1" transform="rotate(0 239 360.2)" fill="none" stroke="#b87a44" stroke-width="1.4" stroke-dasharray="3 3 2 4" opacity="0.6"/>
<ellipse cx="264" cy="331.2" rx="10.5" ry="10" transform="rotate(0 264 331.2)" fill="none" stroke="#aaa6d4" stroke-width="1.3"/>
<ellipse cx="264" cy="331.2" rx="11.1" ry="10.6" transform="rotate(0 264 331.2)" fill="none" stroke="#b87a44" stroke-width="1.4" stroke-dasharray="3 3 2 4" opacity="0.6"/>
<ellipse cx="181" cy="387.7" rx="12.5" ry="7.5" transform="rotate(0 181 387.7)" fill="none" stroke="#aaa6d4" stroke-width="1.3"/>
<ellipse cx="181" cy="387.7" rx="13.1" ry="8.1" transform="rotate(0 181 387.7)" fill="none" stroke="#b87a44" stroke-width="1.4" stroke-dasharray="3 3 2 4" opacity="0.6"/>
<ellipse cx="181" cy="407.2" rx="14" ry="12.5" transform="rotate(0 181 407.2)" fill="none" stroke="#aaa6d4" stroke-width="1.3"/>
<ellipse cx="181" cy="407.2" rx="14.6" ry="13.1" transform="rotate(0 181 407.2)" fill="none" stroke="#b87a44" stroke-width="1.4" stroke-dasharray="3 3 2 4" opacity="0.6"/>
<ellipse cx="269" cy="409.2" rx="14.5" ry="11.5" transform="rotate(0 269 409.2)" fill="none" stroke="#aaa6d4" stroke-width="1.3"/>
<ellipse cx="269" cy="409.2" rx="15.1" ry="12.1" transform="rotate(0 269 409.2)" fill="none" stroke="#b87a44" stroke-width="1.4" stroke-dasharray="3 3 2 4" opacity="0.6"/>
<ellipse cx="175" cy="365.2" rx="6" ry="8" transform="rotate(0 175 365.2)" fill="none" stroke="#aaa6d4" stroke-width="1.3"/>
<ellipse cx="175" cy="365.2" rx="6.6" ry="8.6" transform="rotate(0 175 365.2)" fill="none" stroke="#b87a44" stroke-width="1.4" stroke-dasharray="3 3 2 4" opacity="0.6"/>
<ellipse cx="192" cy="331.2" rx="11.5" ry="9.5" transform="rotate(0 192 331.2)" fill="#dcd9df"/>
<ellipse cx="179" cy="345.2" rx="13" ry="10" transform="rotate(0 179 345.2)" fill="#dcd9df"/>
<ellipse cx="213.5" cy="347.7" rx="11.5" ry="10" transform="rotate(0 213.5 347.7)" fill="#dcd9df"/>
<ellipse cx="214" cy="368.2" rx="12" ry="12" transform="rotate(0 214 368.2)" fill="#dcd9df"/>
<ellipse cx="240" cy="340.2" rx="13" ry="10" transform="rotate(0 240 340.2)" fill="#dcd9df"/>
<ellipse cx="239" cy="360.2" rx="14" ry="12.5" transform="rotate(0 239 360.2)" fill="#dcd9df"/>
<ellipse cx="264" cy="331.2" rx="10.5" ry="10" transform="rotate(0 264 331.2)" fill="#dcd9df"/>
<ellipse cx="181" cy="387.7" rx="12.5" ry="7.5" transform="rotate(0 181 387.7)" fill="#dcd9df"/>
<ellipse cx="181" cy="407.2" rx="14" ry="12.5" transform="rotate(0 181 407.2)" fill="#dcd9df"/>
<ellipse cx="269" cy="409.2" rx="14.5" ry="11.5" transform="rotate(0 269 409.2)" fill="#dcd9df"/>
<ellipse cx="175" cy="365.2" rx="6" ry="8" transform="rotate(0 175 365.2)" fill="#dcd9df"/>
</g>
<clipPath id="c5"><rect x="299" y="326.2" width="113" height="92.6"/></clipPath>
<filter id="t5" x="299" y="326.2" width="113" height="92.6" filterUnits="userSpaceOnUse" color-interpolation-filters="sRGB"><feTurbulence type="fractalNoise" baseFrequency="0.55" numOctaves="2" seed="17" result="n"/><feColorMatrix in="n" type="matrix" values="0.6431 0 0 0 0.4443  0.6588 0 0 0 0.4259  0.2353 0 0 0 0.7431  0 0 0 0 1" result="ts0"/><feGaussianBlur in="ts0" stdDeviation="0.25"/></filter>
<filter id="b5" x="299" y="326.2" width="113" height="92.6" filterUnits="userSpaceOnUse" color-interpolation-filters="sRGB"><feTurbulence type="fractalNoise" baseFrequency="0.4" numOctaves="2" seed="117" result="n2"/><feColorMatrix in="n2" type="matrix" values="0 0 0 0 0.5412  0 0 0 0 0.2745  0 0 0 0 0.1098  4.5 0 0 0 -2.1150" result="br"/><feTurbulence type="fractalNoise" baseFrequency="0.1" numOctaves="1" seed="217" result="n3"/><feColorMatrix in="n3" type="matrix" values="0 0 0 0 0  0 0 0 0 0  0 0 0 0 0  3 0 0 0 -0.750" result="cm"/><feComposite in="br" in2="cm" operator="in" result="br2"/><feGaussianBlur in="br2" stdDeviation="0.45"/></filter>
<g clip-path="url(#c5)">
<rect x="299" y="326.2" width="113" height="92.6" filter="url(#t5)"/>
<rect x="299" y="326.2" width="113" height="92.6" filter="url(#b5)"/>
<ellipse cx="356" cy="341.2" rx="4" ry="4" transform="rotate(0 356 341.2)" fill="#dfdce2" opacity="0.55"/>
<ellipse cx="330" cy="335.2" rx="12.5" ry="8.5" transform="rotate(0 330 335.2)" fill="none" stroke="#aaa6d4" stroke-width="1.3"/>
<ellipse cx="330" cy="335.2" rx="13.1" ry="9.1" transform="rotate(0 330 335.2)" fill="none" stroke="#8a461c" stroke-width="1.5" stroke-dasharray="4 2 2 3" opacity="0.6"/>
<ellipse cx="376" cy="336.2" rx="7" ry="6.5" transform="rotate(0 376 336.2)" fill="none" stroke="#aaa6d4" stroke-width="1.3"/>
<ellipse cx="376" cy="336.2" rx="7.6" ry="7.1" transform="rotate(0 376 336.2)" fill="none" stroke="#8a461c" stroke-width="1.5" stroke-dasharray="4 2 2 3" opacity="0.6"/>
<ellipse cx="404" cy="333.2" rx="7.5" ry="6" transform="rotate(0 404 333.2)" fill="none" stroke="#aaa6d4" stroke-width="1.3"/>
<ellipse cx="404" cy="333.2" rx="8.1" ry="6.6" transform="rotate(0 404 333.2)" fill="none" stroke="#8a461c" stroke-width="1.5" stroke-dasharray="4 2 2 3" opacity="0.6"/>
<ellipse cx="324.7" cy="353.5" rx="10.3" ry="8.7" transform="rotate(0 324.7 353.5)" fill="none" stroke="#aaa6d4" stroke-width="1.3"/>
<ellipse cx="324.7" cy="353.5" rx="10.9" ry="9.299999999999999" transform="rotate(0 324.7 353.5)" fill="none" stroke="#8a461c" stroke-width="1.5" stroke-dasharray="4 2 2 3" opacity="0.6"/>
<ellipse cx="301" cy="347.2" rx="5" ry="4" transform="rotate(0 301 347.2)" fill="none" stroke="#aaa6d4" stroke-width="1.3"/>
<ellipse cx="301" cy="347.2" rx="5.6" ry="4.6" transform="rotate(0 301 347.2)" fill="none" stroke="#8a461c" stroke-width="1.5" stroke-dasharray="4 2 2 3" opacity="0.6"/>
<ellipse cx="371.5" cy="354.59999999999997" rx="9.3" ry="8.7" transform="rotate(0 371.5 354.59999999999997)" fill="none" stroke="#aaa6d4" stroke-width="1.3"/>
<ellipse cx="371.5" cy="354.59999999999997" rx="9.9" ry="9.299999999999999" transform="rotate(0 371.5 354.59999999999997)" fill="none" stroke="#8a461c" stroke-width="1.5" stroke-dasharray="4 2 2 3" opacity="0.6"/>
<ellipse cx="404" cy="351.2" rx="10.5" ry="10" transform="rotate(0 404 351.2)" fill="none" stroke="#aaa6d4" stroke-width="1.3"/>
<ellipse cx="404" cy="351.2" rx="11.1" ry="10.6" transform="rotate(0 404 351.2)" fill="none" stroke="#8a461c" stroke-width="1.5" stroke-dasharray="4 2 2 3" opacity="0.6"/>
<ellipse cx="350.8" cy="365.5" rx="10.3" ry="9.8" transform="rotate(0 350.8 365.5)" fill="none" stroke="#aaa6d4" stroke-width="1.3"/>
<ellipse cx="350.8" cy="365.5" rx="10.9" ry="10.4" transform="rotate(0 350.8 365.5)" fill="none" stroke="#8a461c" stroke-width="1.5" stroke-dasharray="4 2 2 3" opacity="0.6"/>
<ellipse cx="305" cy="373.2" rx="10.5" ry="10" transform="rotate(0 305 373.2)" fill="none" stroke="#aaa6d4" stroke-width="1.3"/>
<ellipse cx="305" cy="373.2" rx="11.1" ry="10.6" transform="rotate(0 305 373.2)" fill="none" stroke="#8a461c" stroke-width="1.5" stroke-dasharray="4 2 2 3" opacity="0.6"/>
<ellipse cx="328" cy="373.2" rx="9.2" ry="7.7" transform="rotate(0 328 373.2)" fill="none" stroke="#aaa6d4" stroke-width="1.3"/>
<ellipse cx="328" cy="373.2" rx="9.799999999999999" ry="8.3" transform="rotate(0 328 373.2)" fill="none" stroke="#8a461c" stroke-width="1.5" stroke-dasharray="4 2 2 3" opacity="0.6"/>
<ellipse cx="371.6" cy="372.59999999999997" rx="9.3" ry="9.3" transform="rotate(0 371.6 372.59999999999997)" fill="none" stroke="#aaa6d4" stroke-width="1.3"/>
<ellipse cx="371.6" cy="372.59999999999997" rx="9.9" ry="9.9" transform="rotate(0 371.6 372.59999999999997)" fill="none" stroke="#8a461c" stroke-width="1.5" stroke-dasharray="4 2 2 3" opacity="0.6"/>
<ellipse cx="333.4" cy="384.59999999999997" rx="9.3" ry="7" transform="rotate(0 333.4 384.59999999999997)" fill="none" stroke="#aaa6d4" stroke-width="1.3"/>
<ellipse cx="333.4" cy="384.59999999999997" rx="9.9" ry="7.6" transform="rotate(0 333.4 384.59999999999997)" fill="none" stroke="#8a461c" stroke-width="1.5" stroke-dasharray="4 2 2 3" opacity="0.6"/>
<ellipse cx="408" cy="391.7" rx="6" ry="7.5" transform="rotate(0 408 391.7)" fill="none" stroke="#aaa6d4" stroke-width="1.3"/>
<ellipse cx="408" cy="391.7" rx="6.6" ry="8.1" transform="rotate(0 408 391.7)" fill="none" stroke="#8a461c" stroke-width="1.5" stroke-dasharray="4 2 2 3" opacity="0.6"/>
<ellipse cx="411" cy="373.2" rx="4.5" ry="7" transform="rotate(0 411 373.2)" fill="none" stroke="#aaa6d4" stroke-width="1.3"/>
<ellipse cx="411" cy="373.2" rx="5.1" ry="7.6" transform="rotate(0 411 373.2)" fill="none" stroke="#8a461c" stroke-width="1.5" stroke-dasharray="4 2 2 3" opacity="0.6"/>
<ellipse cx="328.5" cy="403.7" rx="9.8" ry="9.8" transform="rotate(0 328.5 403.7)" fill="none" stroke="#aaa6d4" stroke-width="1.3"/>
<ellipse cx="328.5" cy="403.7" rx="10.4" ry="10.4" transform="rotate(0 328.5 403.7)" fill="none" stroke="#8a461c" stroke-width="1.5" stroke-dasharray="4 2 2 3" opacity="0.6"/>
<ellipse cx="307.7" cy="406.9" rx="6.6" ry="6.6" transform="rotate(0 307.7 406.9)" fill="none" stroke="#aaa6d4" stroke-width="1.3"/>
<ellipse cx="307.7" cy="406.9" rx="7.199999999999999" ry="7.199999999999999" transform="rotate(0 307.7 406.9)" fill="none" stroke="#8a461c" stroke-width="1.5" stroke-dasharray="4 2 2 3" opacity="0.6"/>
<ellipse cx="360.7" cy="409.7" rx="8.2" ry="7.1" transform="rotate(0 360.7 409.7)" fill="none" stroke="#aaa6d4" stroke-width="1.3"/>
<ellipse cx="360.7" cy="409.7" rx="8.799999999999999" ry="7.699999999999999" transform="rotate(0 360.7 409.7)" fill="none" stroke="#8a461c" stroke-width="1.5" stroke-dasharray="4 2 2 3" opacity="0.6"/>
<ellipse cx="330" cy="335.2" rx="12.5" ry="8.5" transform="rotate(0 330 335.2)" fill="#dfdce2"/>
<ellipse cx="376" cy="336.2" rx="7" ry="6.5" transform="rotate(0 376 336.2)" fill="#dfdce2"/>
<ellipse cx="404" cy="333.2" rx="7.5" ry="6" transform="rotate(0 404 333.2)" fill="#dfdce2"/>
<ellipse cx="324.7" cy="353.5" rx="10.3" ry="8.7" transform="rotate(0 324.7 353.5)" fill="#dfdce2"/>
<ellipse cx="301" cy="347.2" rx="5" ry="4" transform="rotate(0 301 347.2)" fill="#dfdce2"/>
<ellipse cx="371.5" cy="354.59999999999997" rx="9.3" ry="8.7" transform="rotate(0 371.5 354.59999999999997)" fill="#dfdce2"/>
<ellipse cx="404" cy="351.2" rx="10.5" ry="10" transform="rotate(0 404 351.2)" fill="#dfdce2"/>
<ellipse cx="350.8" cy="365.5" rx="10.3" ry="9.8" transform="rotate(0 350.8 365.5)" fill="#dfdce2"/>
<ellipse cx="305" cy="373.2" rx="10.5" ry="10" transform="rotate(0 305 373.2)" fill="#dfdce2"/>
<ellipse cx="328" cy="373.2" rx="9.2" ry="7.7" transform="rotate(0 328 373.2)" fill="#dfdce2"/>
<ellipse cx="371.6" cy="372.59999999999997" rx="9.3" ry="9.3" transform="rotate(0 371.6 372.59999999999997)" fill="#dfdce2"/>
<ellipse cx="333.4" cy="384.59999999999997" rx="9.3" ry="7" transform="rotate(0 333.4 384.59999999999997)" fill="#dfdce2"/>
<ellipse cx="408" cy="391.7" rx="6" ry="7.5" transform="rotate(0 408 391.7)" fill="#dfdce2"/>
<ellipse cx="411" cy="373.2" rx="4.5" ry="7" transform="rotate(0 411 373.2)" fill="#dfdce2"/>
<ellipse cx="328.5" cy="403.7" rx="9.8" ry="9.8" transform="rotate(0 328.5 403.7)" fill="#dfdce2"/>
<ellipse cx="307.7" cy="406.9" rx="6.6" ry="6.6" transform="rotate(0 307.7 406.9)" fill="#dfdce2"/>
<ellipse cx="360.7" cy="409.7" rx="8.2" ry="7.1" transform="rotate(0 360.7 409.7)" fill="#dfdce2"/>
</g>
<rect x="0.6" y="0.6" width="518.8" height="424.8" fill="none" stroke="#000" stroke-width="1.2"/>
</svg>
</body></html>
